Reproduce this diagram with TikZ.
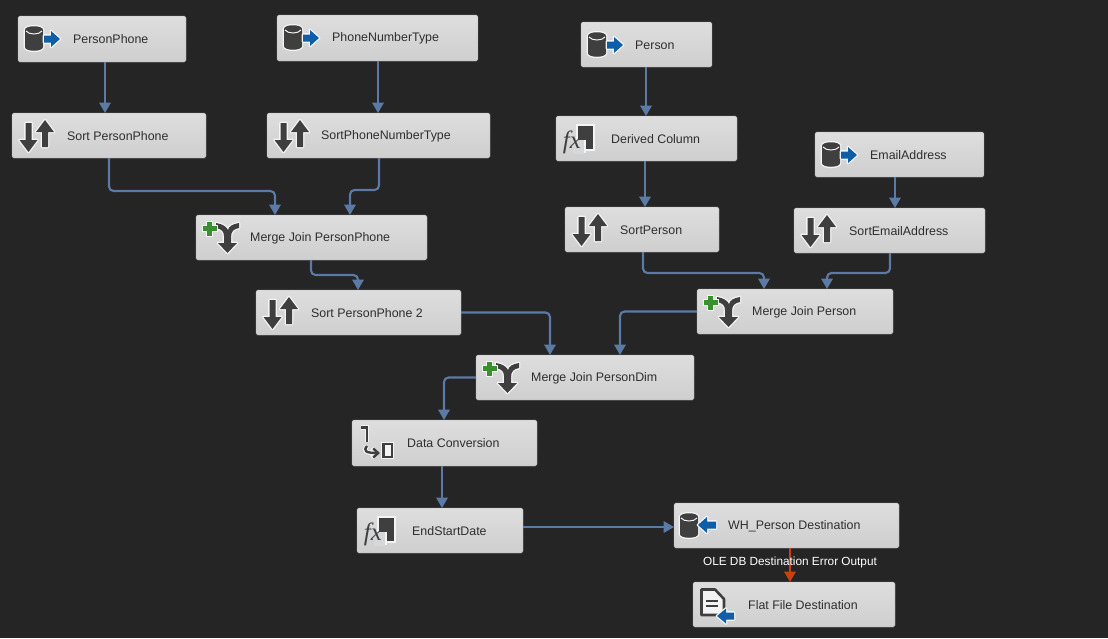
\documentclass[tikz,border=0pt]{standalone}
\usepackage{fontspec}
\setmainfont{Liberation Sans}
\newfontfamily\fxfont{Liberation Serif}
\usetikzlibrary{arrows.meta,calc}
\definecolor{bgc}{HTML}{252525}
\definecolor{flowc}{HTML}{5B7BA6}
\definecolor{errc}{HTML}{C8410F}
\definecolor{icond}{HTML}{3F3F3F}
\definecolor{iconb}{HTML}{0F5EA8}
\definecolor{icong}{HTML}{3A8F2E}
\definecolor{halo}{HTML}{F4F4F4}
\definecolor{boxmid}{HTML}{D6D7D9}
\tikzset{
  x=1pt,y=-1pt,
  blockbox/.style={rectangle,rounded corners=1.6pt,draw=black!32,line width=.4pt,top color=black!13,bottom color=black!19,inner sep=0pt,outer sep=0pt},
  blocktext/.style={anchor=west,inner sep=0pt,text=black!82,font=\fontsize{12.4}{14}\selectfont},
  flow/.style={draw=flowc,line width=2.1pt,rounded corners=4.5pt,-{Triangle[length=10.5pt,width=11.5pt]}},
  errflow/.style={flow,draw=errc},
  errtext/.style={inner sep=0pt,text=white,font=\fontsize{11.8}{14}\selectfont},
  haloed/.style={preaction={draw=halo,line width=2.6pt,line join=round}},
  srcicon/.pic={
    \path[fill=icond,haloed] (7,14) .. controls (7,9) and (25,9) .. (25,14) -- (25,31) .. controls (25,36) and (7,36) .. (7,31) -- cycle;
    \path[draw=halo,line width=1pt] (8,15) .. controls (11,19) and (21,19) .. (24,15);
    \path[fill=iconb,haloed] (26,19.5) -- (33,19.5) -- (33,15) -- (42,23) -- (33,31) -- (33,26.5) -- (26,26.5) -- cycle;
  },
  desticon/.pic={
    \path[fill=icond,haloed] (6,14) .. controls (6,9) and (24,9) .. (24,14) -- (24,31) .. controls (24,36) and (6,36) .. (6,31) -- cycle;
    \path[draw=halo,line width=1pt] (7,15) .. controls (10,19) and (20,19) .. (23,15);
    \path[fill=iconb,haloed] (42,18.5) -- (33,18.5) -- (33,14) -- (24,22) -- (33,30) -- (33,25.5) -- (42,25.5) -- cycle;
  },
  sorticon/.pic={
    \path[fill=icond,haloed] (13.5,10) -- (19.5,10) -- (19.5,27) -- (25.5,27) -- (16.5,39) -- (7.5,27) -- (13.5,27) -- cycle;
    \path[fill=icond,haloed] (30,34) -- (36,34) -- (36,19) -- (42,19) -- (33,7) -- (24,19) -- (30,19) -- cycle;
  },
  mergeicon/.pic={
    \path[fill=icond,haloed] (20,13) .. controls (26,14) and (28,17) .. (28,21) -- (28,28) -- (22,28) -- (31.5,38) -- (41,28) -- (35,28) -- (35,22) .. controls (35,16) and (38,14) .. (43,13) -- (43,8) .. controls (37,9) and (33,11) .. (32,15) .. controls (30,11) and (26,9) .. (20,8) -- cycle;
    \path[fill=icong,draw=halo,line width=.9pt] (10.5,6) -- (16.5,6) -- (16.5,10.5) -- (21,10.5) -- (21,16.5) -- (16.5,16.5) -- (16.5,21) -- (10.5,21) -- (10.5,16.5) -- (6,16.5) -- (6,10.5) -- (10.5,10.5) -- cycle;
  },
  fxicon/.pic={
    \path[fill=icond,draw=halo,line width=1.4pt] (21,9) rectangle (38,34);
    \path[fill=boxmid,draw=halo,line width=1.2pt] (19,25) -- (29,25) -- (29,36) -- (19,36) -- cycle;
    \path[fill=boxmid] (17,24) rectangle (28,38);
    \node[inner sep=0pt,text=icond,font=\fxfont\itshape\fontsize{25}{25}\selectfont] at (16,26.5) {fx};
  },
  convicon/.pic={
    \path[draw=icond,line width=2.4pt,preaction={draw=halo,line width=4.4pt}] (9,7.5) -- (15,7.5) -- (15,22);
    \path[draw=icond,line width=2.4pt,preaction={draw=halo,line width=4.4pt},-{Straight Barb[length=5pt,width=9pt]}] (15,26) .. controls (11,31) and (14,33) .. (28,33);
    \path[draw=icond,line width=2.4pt,fill=halo,preaction={draw=halo,line width=4.4pt}] (31.5,24) rectangle (40,37);
  },
  fileicon/.pic={
    \path[fill=halo,draw=icond,line width=2.6pt,line join=round] (8.5,7.5) -- (22,7.5) -- (31,17) -- (31,33) -- (8.5,33) -- cycle;
    \path[draw=icond,line width=2pt] (12.5,19) -- (25,19) (12.5,24) -- (25,24);
    \path[fill=iconb,haloed] (41,30.5) -- (33,30.5) -- (33,26.5) -- (24,34) -- (33,41.5) -- (33,37.5) -- (41,37.5) -- cycle;
  },
}
% name, x1, y1, x2, y2, text x, icon, label
\newcommand{\blockat}[8]{%
  \pgfmathsetmacro{\bw}{#4-#2}\pgfmathsetmacro{\bh}{#5-#3}%
  \pgfmathsetmacro{\cx}{(#2+#4)/2}\pgfmathsetmacro{\cy}{(#3+#5)/2}%
  \node[blockbox,minimum width=\bw pt,minimum height=\bh pt] (#1) at (\cx,\cy) {};
  \pic at (#1.north west) {#7};
  \node[blocktext] (#1-text) at (#6,\cy+.5) {#8};
}
\begin{document}
\begin{tikzpicture}
\useasboundingbox[fill=bgc] (0,0) rectangle (1108,638);
\blockat{pp}{18}{16}{186}{62}{73}{srcicon}{PersonPhone}
\blockat{pnt}{277}{15}{478}{61}{332}{srcicon}{PhoneNumberType}
\blockat{per}{581}{22}{712}{67}{635}{srcicon}{Person}
\blockat{spp}{12}{113}{206}{158}{67}{sorticon}{Sort PersonPhone}
\blockat{spnt}{267}{113}{490}{158}{321}{sorticon}{SortPhoneNumberType}
\blockat{dc}{556}{116}{737}{161}{611}{fxicon}{Derived Column}
\blockat{ea}{815}{132}{984}{177}{870}{srcicon}{EmailAddress}
\blockat{sper}{565}{207}{719}{252}{620}{sorticon}{SortPerson}
\blockat{sea}{794}{208}{985}{253}{849}{sorticon}{SortEmailAddress}
\blockat{mjpp}{196}{215}{427}{260}{250}{mergeicon}{Merge Join PersonPhone}
\blockat{spp2}{256}{290}{461}{335}{311}{sorticon}{Sort PersonPhone 2}
\blockat{mjp}{697}{289}{893}{334}{752}{mergeicon}{Merge Join Person}
\blockat{mjd}{476}{355}{694}{400}{531}{mergeicon}{Merge Join PersonDim}
\blockat{conv}{352}{420}{537}{466}{407}{convicon}{Data Conversion}
\blockat{esd}{357}{508}{523}{553}{412}{fxicon}{EndStartDate}
\blockat{wh}{674}{503}{899}{548}{728}{desticon}{WH\_Person Destination}
\blockat{ff}{693}{582}{895}{627}{748}{fileicon}{Flat File Destination}

\draw[flow] ([xshift=87pt]pp.south west) -- ([xshift=93pt]spp.north west);
\draw[flow] ([xshift=101pt]pnt.south west) -- ([xshift=111pt]spnt.north west);
\draw[flow] ([xshift=97pt]spp.south west) |- (191,191) -| ([xshift=79pt]mjpp.north west);
\draw[flow] ([xshift=112pt]spnt.south west) |- (350,190) -- ([xshift=154pt]mjpp.north west);
\draw[flow] ([xshift=115pt]mjpp.south west) -- ++(0,15) -| ([xshift=102pt]spp2.north west);
\draw[flow] (spp2.east) -| ([xshift=74pt]mjd.north west);
\draw[flow] ([xshift=65pt]per.south west) -- ([xshift=90pt]dc.north west);
\draw[flow] ([xshift=89pt]dc.south west) -- ([xshift=80pt]sper.north west);
\draw[flow] ([xshift=80pt]ea.south west) -- ([xshift=101pt]sea.north west);
\draw[flow] ([xshift=78pt]sper.south west) -- ++(0,21) -| ([xshift=67pt]mjp.north west);
\draw[flow] ([xshift=96pt]sea.south west) -- ++(0,20) -| ([xshift=130pt]mjp.north west);
\draw[flow] (mjp.west) -| ([xshift=144pt]mjd.north west);
\draw[flow] (mjd.west) -| ([xshift=92pt]conv.north west);
\draw[flow] ([xshift=90pt]conv.south west) -- ([xshift=85pt]esd.north west);
\draw[flow] ([yshift=3.5pt]esd.east) -- ([yshift=-1.5pt]wh.west);
\draw[errflow] ([xshift=116pt]wh.south west) -- ([xshift=97pt]ff.north west) node[errtext,pos=.43] (errlabel) {OLE DB Destination Error Output};
\end{tikzpicture}
\end{document}
